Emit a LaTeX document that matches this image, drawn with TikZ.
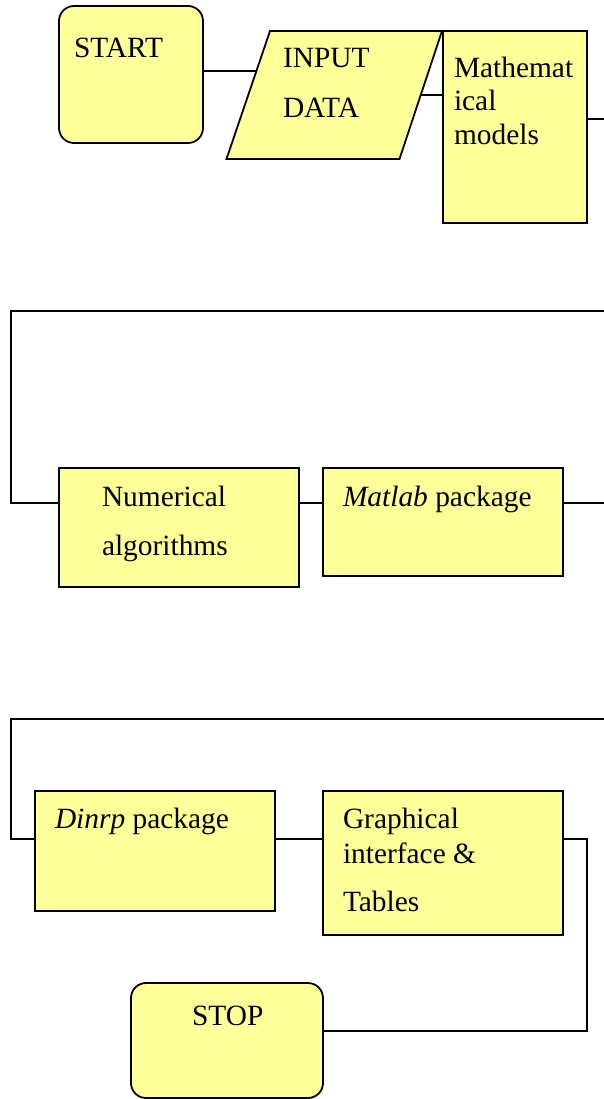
\documentclass[tikz,border=0pt]{standalone}
\usepackage{fontspec}
\setmainfont{Liberation Serif}
\definecolor{boxfill}{RGB}{255,255,153}
\tikzset{
  box/.style={draw=black, fill=boxfill, line width=1.8pt, inner sep=0pt, outer sep=0pt, rectangle},
  rbox/.style={box, rounded corners=15pt},
  conn/.style={draw=black, line width=1.4pt},
  txt/.style={anchor=base west, inner sep=0pt, outer sep=0pt, font=\fontsize{29.4}{34}\selectfont},
}
\begin{document}
\begin{tikzpicture}[x=1pt, y=-1pt]
\useasboundingbox (0,0) rectangle (604,1099);
% boxes
\node[rbox, minimum width=144, minimum height=137] (start) at (131,74.5) {};
\path[box] (226.5,159) -- (270,31) -- (442,31) -- (399.5,159) -- cycle;
\coordinate (inL) at (256.4,71);
\coordinate (inR) at (420,95);
\node[box, minimum width=144, minimum height=192] (math) at (515,127) {};
\node[box, minimum width=240, minimum height=119] (num) at (179,527.5) {};
\node[box, minimum width=240, minimum height=108] (mat) at (443,522) {};
\node[box, minimum width=240, minimum height=120] (din) at (155,851) {};
\node[box, minimum width=240, minimum height=144] (gra) at (443,863) {};
\node[rbox, minimum width=192, minimum height=115] (stop) at (227,1040.5) {};
% texts
\node[txt] (tStart) at (74,58) {START};
\node[txt] (tIn1) at (283,68) {INPUT};
\node[txt] (tIn2) at (283,118) {DATA};
\node[txt] (tM1) at (454,78) {Mathemat};
\node[txt] (tM2) at (454,111) {ical};
\node[txt] (tM3) at (454,145) {models};
\node[txt] (tN1) at (102,506) {Numerical};
\node[txt] (tN2) at (102,555) {algorithms};
\node[txt] (tMat) at (343,506) {\textit{Matlab} package};
\node[txt] (tDin) at (55,828) {\textit{Dinrp} package};
\node[txt] (tG1) at (343,828) {Graphical};
\node[txt] (tG2) at (343,863) {interface \&};
\node[txt] (tG3) at (343,911) {Tables};
\node[txt] (tStop) at (192,1025) {STOP};
% connectors
\coordinate (m1) at (604,119);
\coordinate (r1) at (604,311);
\coordinate (k1) at (11,503);
\coordinate (r2) at (604,719);
\coordinate (k2) at (11,839);
\coordinate (k3) at (587,1031);
\draw[conn] (start.east |- inL) -- (inL);
\draw[conn] (inR) -- (inR -| math.west);
\draw[conn] (math.east |- m1) -- (m1);
\draw[conn] (r1) -| (k1) -- (k1 -| num.west);
\draw[conn] (k1 -| num.east) -- (k1 -| mat.west);
\draw[conn] (k1 -| mat.east) -- (k1 -| r1);
\draw[conn] (r2) -| (k2) -- (k2 -| din.west);
\draw[conn] (k2 -| din.east) -- (k2 -| gra.west);
\draw[conn] (k2 -| gra.east) -| (k3) -- (k3 -| stop.east);
\end{tikzpicture}
\end{document}
